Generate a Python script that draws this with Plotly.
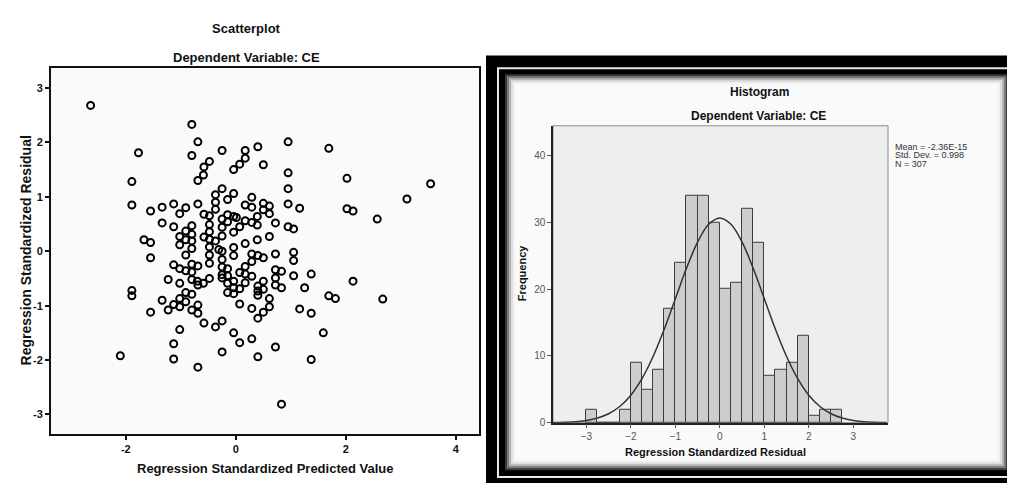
import plotly.graph_objects as go

# ---------------- data ----------------
# Scatterplot: regression standardized predicted value (x) vs standardized residual (y)
pred_x = [-2.64, -0.80, -0.69, -1.77, -0.80, -0.25, 0.17, 0.40, 0.17, 0.95, 1.69, -0.48, -0.58, -0.59,
          -0.69, 0.07, -0.04, 0.50, 0.95, -1.89, 2.02, 3.54, 3.11, 0.95, -0.25, -0.37, -0.04, 0.29,
          -0.15, -0.37, -1.13, -0.69, -1.89, -1.34, -0.91, -1.55, -1.02, -0.37, 0.17, 0.29, 0.50, 0.61,
          0.50, 0.61, 0.95, 1.16, 2.02, 2.13, 2.57, -0.58, -0.48, -0.15, -0.04, 0.01, -0.25, -0.15,
          0.39, 0.17, 0.29, 0.39, -1.34, -1.13, -0.80, -0.48, -0.25, 0.07, 0.72, 0.95, 1.05, -0.91,
          -0.48, -0.04, -0.58, -1.02, -0.80, -0.25, -0.48, 0.61, -1.67, -1.55, -0.91, -0.80, -0.37,
          -1.02, -0.48, 0.39, 0.17, -0.04, -0.80, -0.31, -0.25, -0.91, -0.48, -0.04, 0.29, 0.40, 0.50,
          0.72, 1.05, 1.05, -1.55, -0.25, 0.29, -0.48, -0.80, -1.13, -0.69, -0.25, -1.02, -0.91, -0.80,
          -0.15, 0.17, 0.72, 0.83, 0.07, 0.17, 1.37, -0.25, -0.15, 0.29, 1.05, 0.72, -1.23, -0.80,
          -0.48, -0.25, 2.13, -0.70, -1.02, -0.69, -0.59, -0.15, -0.04, 0.17, 0.50, 0.40, 0.72, 0.83,
          -0.04, 0.07, -0.15, -0.04, 0.40, 0.50, 1.25, -1.89, -1.89, -0.91, -0.80, 0.40, 1.69, 1.81,
          2.67, 0.61, -1.02, -1.34, -0.91, -1.13, -1.02, -0.69, 0.07, 0.61, 0.29, -1.23, -0.80, -1.55,
          -0.69, 0.50, 1.16, 1.37, 0.40, -0.25, -0.58, -0.37, -1.02, 1.59, -0.04, 0.29, 0.07, -1.13,
          0.72, -0.25, -2.10, 0.40, -1.13, 1.37, -0.69, 0.83]
resid_y = [2.68, 2.33, 2.01, 1.81, 1.76, 1.85, 1.85, 1.92, 1.71, 2.01, 1.89, 1.65, 1.55, 1.40,
           1.30, 1.60, 1.50, 1.59, 1.44, 1.28, 1.34, 1.24, 0.96, 1.15, 1.15, 1.04, 1.06, 0.99,
           0.95, 0.90, 0.87, 0.87, 0.85, 0.81, 0.80, 0.74, 0.69, 0.77, 0.85, 0.81, 0.88, 0.83,
           0.76, 0.69, 0.87, 0.79, 0.78, 0.74, 0.59, 0.68, 0.65, 0.67, 0.64, 0.62, 0.59, 0.54,
           0.64, 0.56, 0.53, 0.48, 0.52, 0.45, 0.47, 0.49, 0.44, 0.45, 0.52, 0.45, 0.41, 0.37,
           0.36, 0.35, 0.26, 0.27, 0.31, 0.28, 0.22, 0.27, 0.21, 0.16, 0.21, 0.19, 0.19,
           0.12, 0.08, 0.21, 0.14, 0.07, 0.05, 0.03, 0.00, -0.07, -0.07, -0.08, -0.05, -0.08, -0.12,
           -0.05, -0.02, -0.17, -0.12, -0.15, -0.19, -0.22, -0.24, -0.25, -0.27, -0.29, -0.32, -0.36, -0.38,
           -0.32, -0.28, -0.34, -0.37, -0.39, -0.42, -0.42, -0.43, -0.45, -0.46, -0.45, -0.49, -0.52, -0.52,
           -0.50, -0.49, -0.55, -0.55, -0.59, -0.62, -0.59, -0.59, -0.55, -0.58, -0.55, -0.64, -0.62, -0.67,
           -0.67, -0.69, -0.76, -0.78, -0.73, -0.70, -0.67, -0.72, -0.82, -0.76, -0.79, -0.81, -0.82, -0.87,
           -0.88, -0.87, -0.87, -0.90, -0.93, -0.98, -1.02, -0.99, -0.97, -1.02, -1.05, -1.08, -1.08, -1.12,
           -1.14, -1.12, -1.06, -1.14, -1.23, -1.28, -1.32, -1.39, -1.44, -1.50, -1.50, -1.61, -1.68, -1.70,
           -1.76, -1.85, -1.92, -1.94, -1.98, -1.99, -2.13, -2.81]

# Histogram: bins of width 0.25 (left edges) and frequencies
bin_left = [-3.0, -2.75, -2.5, -2.25, -2.0, -1.75, -1.5, -1.25, -1.0, -0.75, -0.5, -0.25,
            0.0, 0.25, 0.5, 0.75, 1.0, 1.25, 1.5, 1.75, 2.0, 2.25, 2.5]
frequency = [2, 0, 0, 2, 9, 5, 8, 17, 24, 34, 34, 30,
             20, 21, 32, 27, 7, 8, 9, 13, 1, 2, 2]
bin_width = 0.25

# Normal curve
curve_x = [-3.75, -3.5, -3.25, -3.0, -2.75, -2.5, -2.25, -2.0, -1.75, -1.5, -1.25, -1.0, -0.75, -0.5, -0.25,
           0.0, 0.25, 0.5, 0.75, 1.0, 1.25, 1.5, 1.75, 2.0, 2.25, 2.5, 2.75, 3.0, 3.25, 3.5, 3.75]
curve_y = [0.03, 0.07, 0.15, 0.34, 0.69, 1.33, 2.42, 4.12, 6.60, 9.92, 14.00, 18.57, 23.13, 27.06, 29.73,
           30.68, 29.73, 27.06, 23.13, 18.57, 14.00, 9.92, 6.60, 4.12, 2.42, 1.33, 0.69, 0.34, 0.15, 0.07, 0.03]

stats_lines = ["Mean = -2.36E-15", "Std. Dev. = 0.998", "N = 307"]

scatter_xticks = [-2, 0, 2, 4]
scatter_yticks = [-3, -2, -1, 0, 1, 2, 3]
hist_xticks = [-3, -2, -1, 0, 1, 2, 3]
hist_yticks = [0, 10, 20, 30, 40]

# ---------------- layout helpers ----------------
W, H = 1015, 483


def px(x):
    return x / W


def py(y):
    return 1 - y / H


NARROW = "Liberation Sans Narrow, Arial Narrow, Liberation Sans, Arial, sans-serif"
ARIAL = "Liberation Sans, Arial, sans-serif"

fig = go.Figure()

fig.add_trace(go.Scatter(
    x=pred_x, y=resid_y, mode="markers", xaxis="x", yaxis="y",
    marker=dict(symbol="circle-open", size=7, color="black", line=dict(width=2, color="black")),
    showlegend=False, hoverinfo="x+y"))

bin_centers = [b + bin_width / 2 for b in bin_left]
fig.add_trace(go.Bar(
    x=bin_centers, y=frequency, width=bin_width, xaxis="x2", yaxis="y2",
    marker=dict(color="#cdcdcd", line=dict(color="#3c3c3c", width=1)),
    showlegend=False))

fig.add_trace(go.Scatter(
    x=curve_x, y=curve_y, mode="lines", line=dict(color="#333333", width=1.5, shape="spline"),
    xaxis="x2", yaxis="y2", showlegend=False, hoverinfo="skip"))

shapes = []
# scatter plot background
shapes.append(dict(type="rect", xref="paper", yref="paper", x0=px(43), x1=px(471), y0=py(430), y1=py(61),
                   fillcolor="#fafafa", line=dict(width=0), layer="below"))
# right panel: black frame with thin white line and shaded inner panel
shapes.append(dict(type="rect", xref="paper", yref="paper", x0=px(478), x1=px(1015), y0=py(483), y1=py(48),
                   fillcolor="black", line=dict(width=0), layer="below"))
shapes.append(dict(type="rect", xref="paper", yref="paper", x0=px(490), x1=px(1008), y0=py(474), y1=py(61),
                   fillcolor="rgba(0,0,0,0)", line=dict(color="#e8e8e8", width=2), layer="below"))
for inset, col in [(0, "#3a3a3a"), (2, "#7a7a7a"), (4, "#b4b4b4"), (6, "#dedede"), (8, "#f2f2f2"), (10, "#fafafa")]:
    shapes.append(dict(type="rect", xref="paper", yref="paper",
                       x0=px(497 + inset), x1=px(1000 - inset), y0=py(467 - inset), y1=py(67 + inset),
                       fillcolor=col, line=dict(width=0), layer="below"))
# histogram plot background and frame
shapes.append(dict(type="rect", xref="paper", yref="paper", x0=px(545), x1=px(880), y0=py(419), y1=py(119),
                   fillcolor="#eeeeee", line=dict(color="#8c8c8c", width=1), layer="below"))


def label(text, x, y, family, size, angle=0, xanchor="center"):
    return dict(text=text, x=px(x), y=py(y), xref="paper", yref="paper", showarrow=False,
                xanchor=xanchor, yanchor="middle", textangle=angle,
                font=dict(family=family, size=size, color="#111"))


annotations = [
    label("<b>Scatterplot</b>", 238, 21, NARROW, 13),
    label("<b>Dependent Variable: CE</b>", 238, 50, NARROW, 13),
    label("<b>Regression Standardized Predicted Value</b>", 257, 465, NARROW, 13),
    label("<b>Regression Standardized Residual</b>", 18, 245, NARROW, 14, angle=-90),
    label("<b>Histogram</b>", 751, 85, ARIAL, 12),
    label("<b>Dependent Variable: CE</b>", 750, 109, ARIAL, 12),
    label("<b>Regression Standardized Residual</b>", 707, 449, ARIAL, 11),
    label("<b>Frequency</b>", 514, 268, ARIAL, 11, angle=-90),
]
for i, line in enumerate(stats_lines):
    a = label(line, 885, 140.5 + 8.5 * i, ARIAL, 9, xanchor="left")
    a["font"]["color"] = "#333"
    annotations.append(a)

fig.update_layout(
    width=W, height=H, margin=dict(l=0, r=0, t=0, b=0),
    paper_bgcolor="white", plot_bgcolor="rgba(0,0,0,0)",
    bargap=0, shapes=shapes, annotations=annotations,
    xaxis=dict(domain=[px(43), px(471)], range=[-3.36, 4.42], tickvals=scatter_xticks,
               ticktext=[f"<b>{v}</b>" for v in scatter_xticks],
               showgrid=False, zeroline=False, showline=True, mirror=True, linecolor="#111", linewidth=2,
               ticks="outside", ticklen=4, tickwidth=2, tickcolor="#111",
               tickfont=dict(family=NARROW, size=11, color="#111"), anchor="y", fixedrange=True),
    yaxis=dict(domain=[py(430), py(61)], range=[-3.35, 3.36], tickvals=scatter_yticks,
               ticktext=[f"<b>{v}</b>" for v in scatter_yticks],
               showgrid=False, zeroline=False, showline=True, mirror=True, linecolor="#111", linewidth=2,
               ticks="outside", ticklen=4, tickwidth=2, tickcolor="#111",
               tickfont=dict(family=NARROW, size=11, color="#111"), anchor="x", fixedrange=True),
    xaxis2=dict(domain=[px(545), px(880)], range=[-3.75, 3.78], tickvals=hist_xticks,
                showgrid=False, zeroline=False, showline=True, linecolor="#222", linewidth=1.5,
                ticks="outside", ticklen=4, tickwidth=1, tickcolor="#555",
                tickfont=dict(family=ARIAL, size=10, color="#555"), anchor="y2", fixedrange=True),
    yaxis2=dict(domain=[py(419), py(119)], range=[0, 44.5], tickvals=hist_yticks,
                showgrid=False, zeroline=False, showline=True, linecolor="#222", linewidth=1.5,
                ticks="outside", ticklen=4, tickwidth=1, tickcolor="#555",
                tickfont=dict(family=ARIAL, size=10, color="#555"), anchor="x2", fixedrange=True),
)

fig.write_html("out.html")
